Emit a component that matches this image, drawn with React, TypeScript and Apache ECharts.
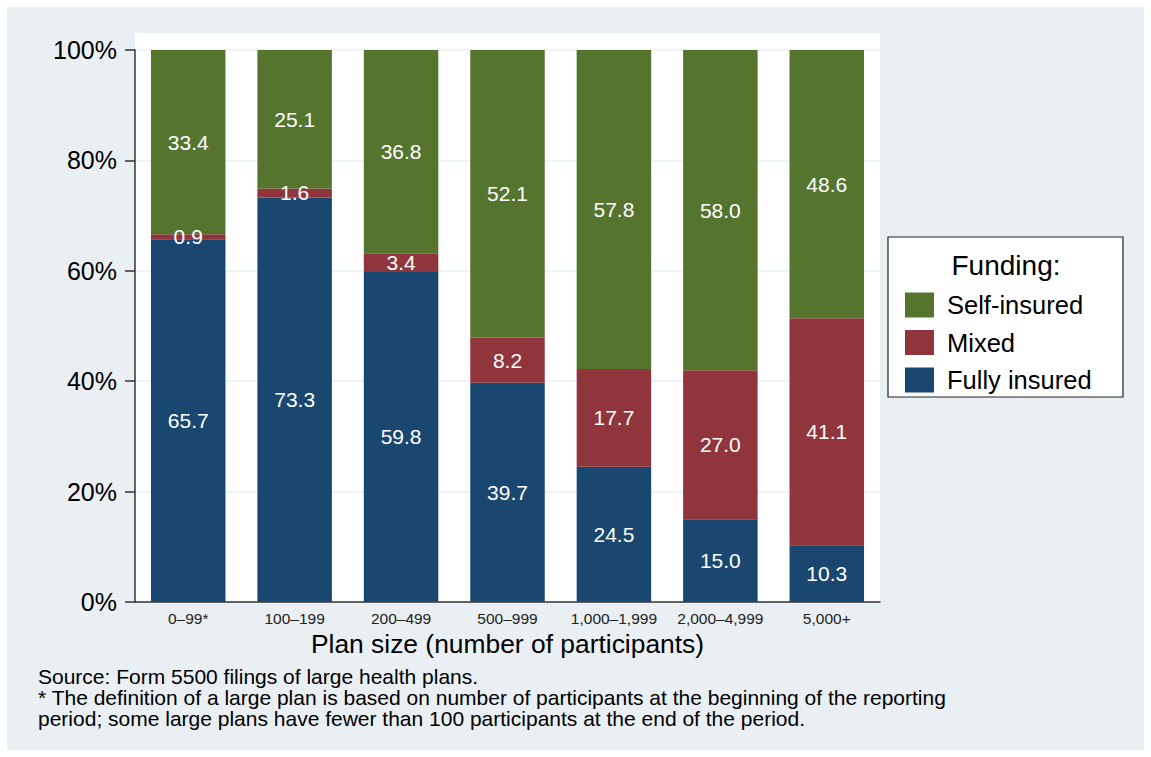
import React, { useEffect, useRef } from "react";
import * as echarts from "echarts";

const categories = ["0–99*", "100–199", "200–499", "500–999", "1,000–1,999", "2,000–4,999", "5,000+"];
const fullyInsured = [65.7, 73.3, 59.8, 39.7, 24.5, 15.0, 10.3];
const mixed = [0.9, 1.6, 3.4, 8.2, 17.7, 27.0, 41.1];
const selfInsured = [33.4, 25.1, 36.8, 52.1, 57.8, 58.0, 48.6];
const yTicks = [0, 20, 40, 60, 80, 100];

const FONT = 'Arial, "Liberation Sans", Helvetica, sans-serif';

export default function App() {
  const ref = useRef<HTMLDivElement>(null);
  useEffect(() => {
    document.body.style.margin = "0";
    const chart = echarts.init(ref.current!, null, { renderer: "svg" });
    const label = {
      show: true,
      position: "inside",
      color: "#ffffff",
      fontSize: 21,
      fontFamily: FONT,
      formatter: (p: any) => Number(p.value).toFixed(1),
    };
    const mk = (name: string, data: number[], color: string) => ({
      name,
      type: "bar",
      stack: "total",
      data,
      barCategoryGap: "30%",
      itemStyle: { color },
      label,
      emphasis: { disabled: true },
    });
    chart.setOption({
      animation: false,
      backgroundColor: "#ffffff",
      textStyle: { fontFamily: FONT },
      grid: { left: 135, right: 271, top: 50, bottom: 155 },
      graphic: [
        { type: "rect", z: -10, shape: { x: 7, y: 7, width: 1137, height: 743 }, style: { fill: "#e9eff2" } },
        { type: "rect", z: -9, shape: { x: 135, y: 33, width: 745, height: 569 }, style: { fill: "#ffffff" } },
        {
          type: "rect",
          z: 5,
          shape: { x: 888, y: 237, width: 235, height: 160 },
          style: { fill: "#ffffff", stroke: "#222222", lineWidth: 1.2 },
        },
        {
          type: "text",
          z: 6,
          x: 1006,
          y: 265,
          style: { text: "Funding:", fontSize: 28, fontFamily: FONT, fill: "#000", align: "center", verticalAlign: "middle" },
        },
        {
          type: "text",
          z: 6,
          x: 38,
          y: 666,
          style: {
            text:
              "Source: Form 5500 filings of large health plans.\n* The definition of a large plan is based on number of participants at the beginning of the reporting\nperiod; some large plans have fewer than 100 participants at the end of the period.",
            fontSize: 21,
            lineHeight: 21,
            fontFamily: FONT,
            fill: "#000",
            verticalAlign: "top",
          },
        },
      ],
      legend: {
        orient: "vertical",
        left: 900,
        top: 287,
        icon: "rect",
        itemWidth: 29,
        itemHeight: 25,
        itemGap: 11.5,
        z: 7,
        data: ["Self-insured", "Mixed", "Fully insured"],
        textStyle: { fontSize: 25.5, color: "#000", fontFamily: FONT, padding: [0, 0, 0, 8] },
        selectedMode: false,
      },
      xAxis: {
        type: "category",
        data: categories,
        axisLine: { show: true, lineStyle: { color: "#333", width: 1.5 } },
        axisTick: { show: false },
        axisLabel: { interval: 0, fontSize: 15.5, color: "#222", margin: 8, fontFamily: FONT },
        name: "Plan size (number of participants)",
        nameLocation: "middle",
        nameGap: 28,
        nameTextStyle: { fontSize: 26.4, color: "#000", fontFamily: FONT },
      },
      yAxis: {
        type: "value",
        min: yTicks[0],
        max: yTicks[yTicks.length - 1],
        interval: 20,
        axisLine: { show: true, lineStyle: { color: "#333", width: 1.5 } },
        axisTick: { show: true, length: 10, lineStyle: { color: "#333", width: 1.5 } },
        axisLabel: { fontSize: 25, color: "#000", margin: 18, formatter: "{value}%", fontFamily: FONT },
        splitLine: { show: true, lineStyle: { color: "#e9eff2", width: 1.5 } },
      },
      series: [
        mk("Fully insured", fullyInsured, "#1a476f"),
        mk("Mixed", mixed, "#90353b"),
        mk("Self-insured", selfInsured, "#55752f"),
      ],
    });
    return () => chart.dispose();
  }, []);
  return <div ref={ref} style={{ width: 1151, height: 757, position: "absolute", left: 0, top: 0 }} />;
}
